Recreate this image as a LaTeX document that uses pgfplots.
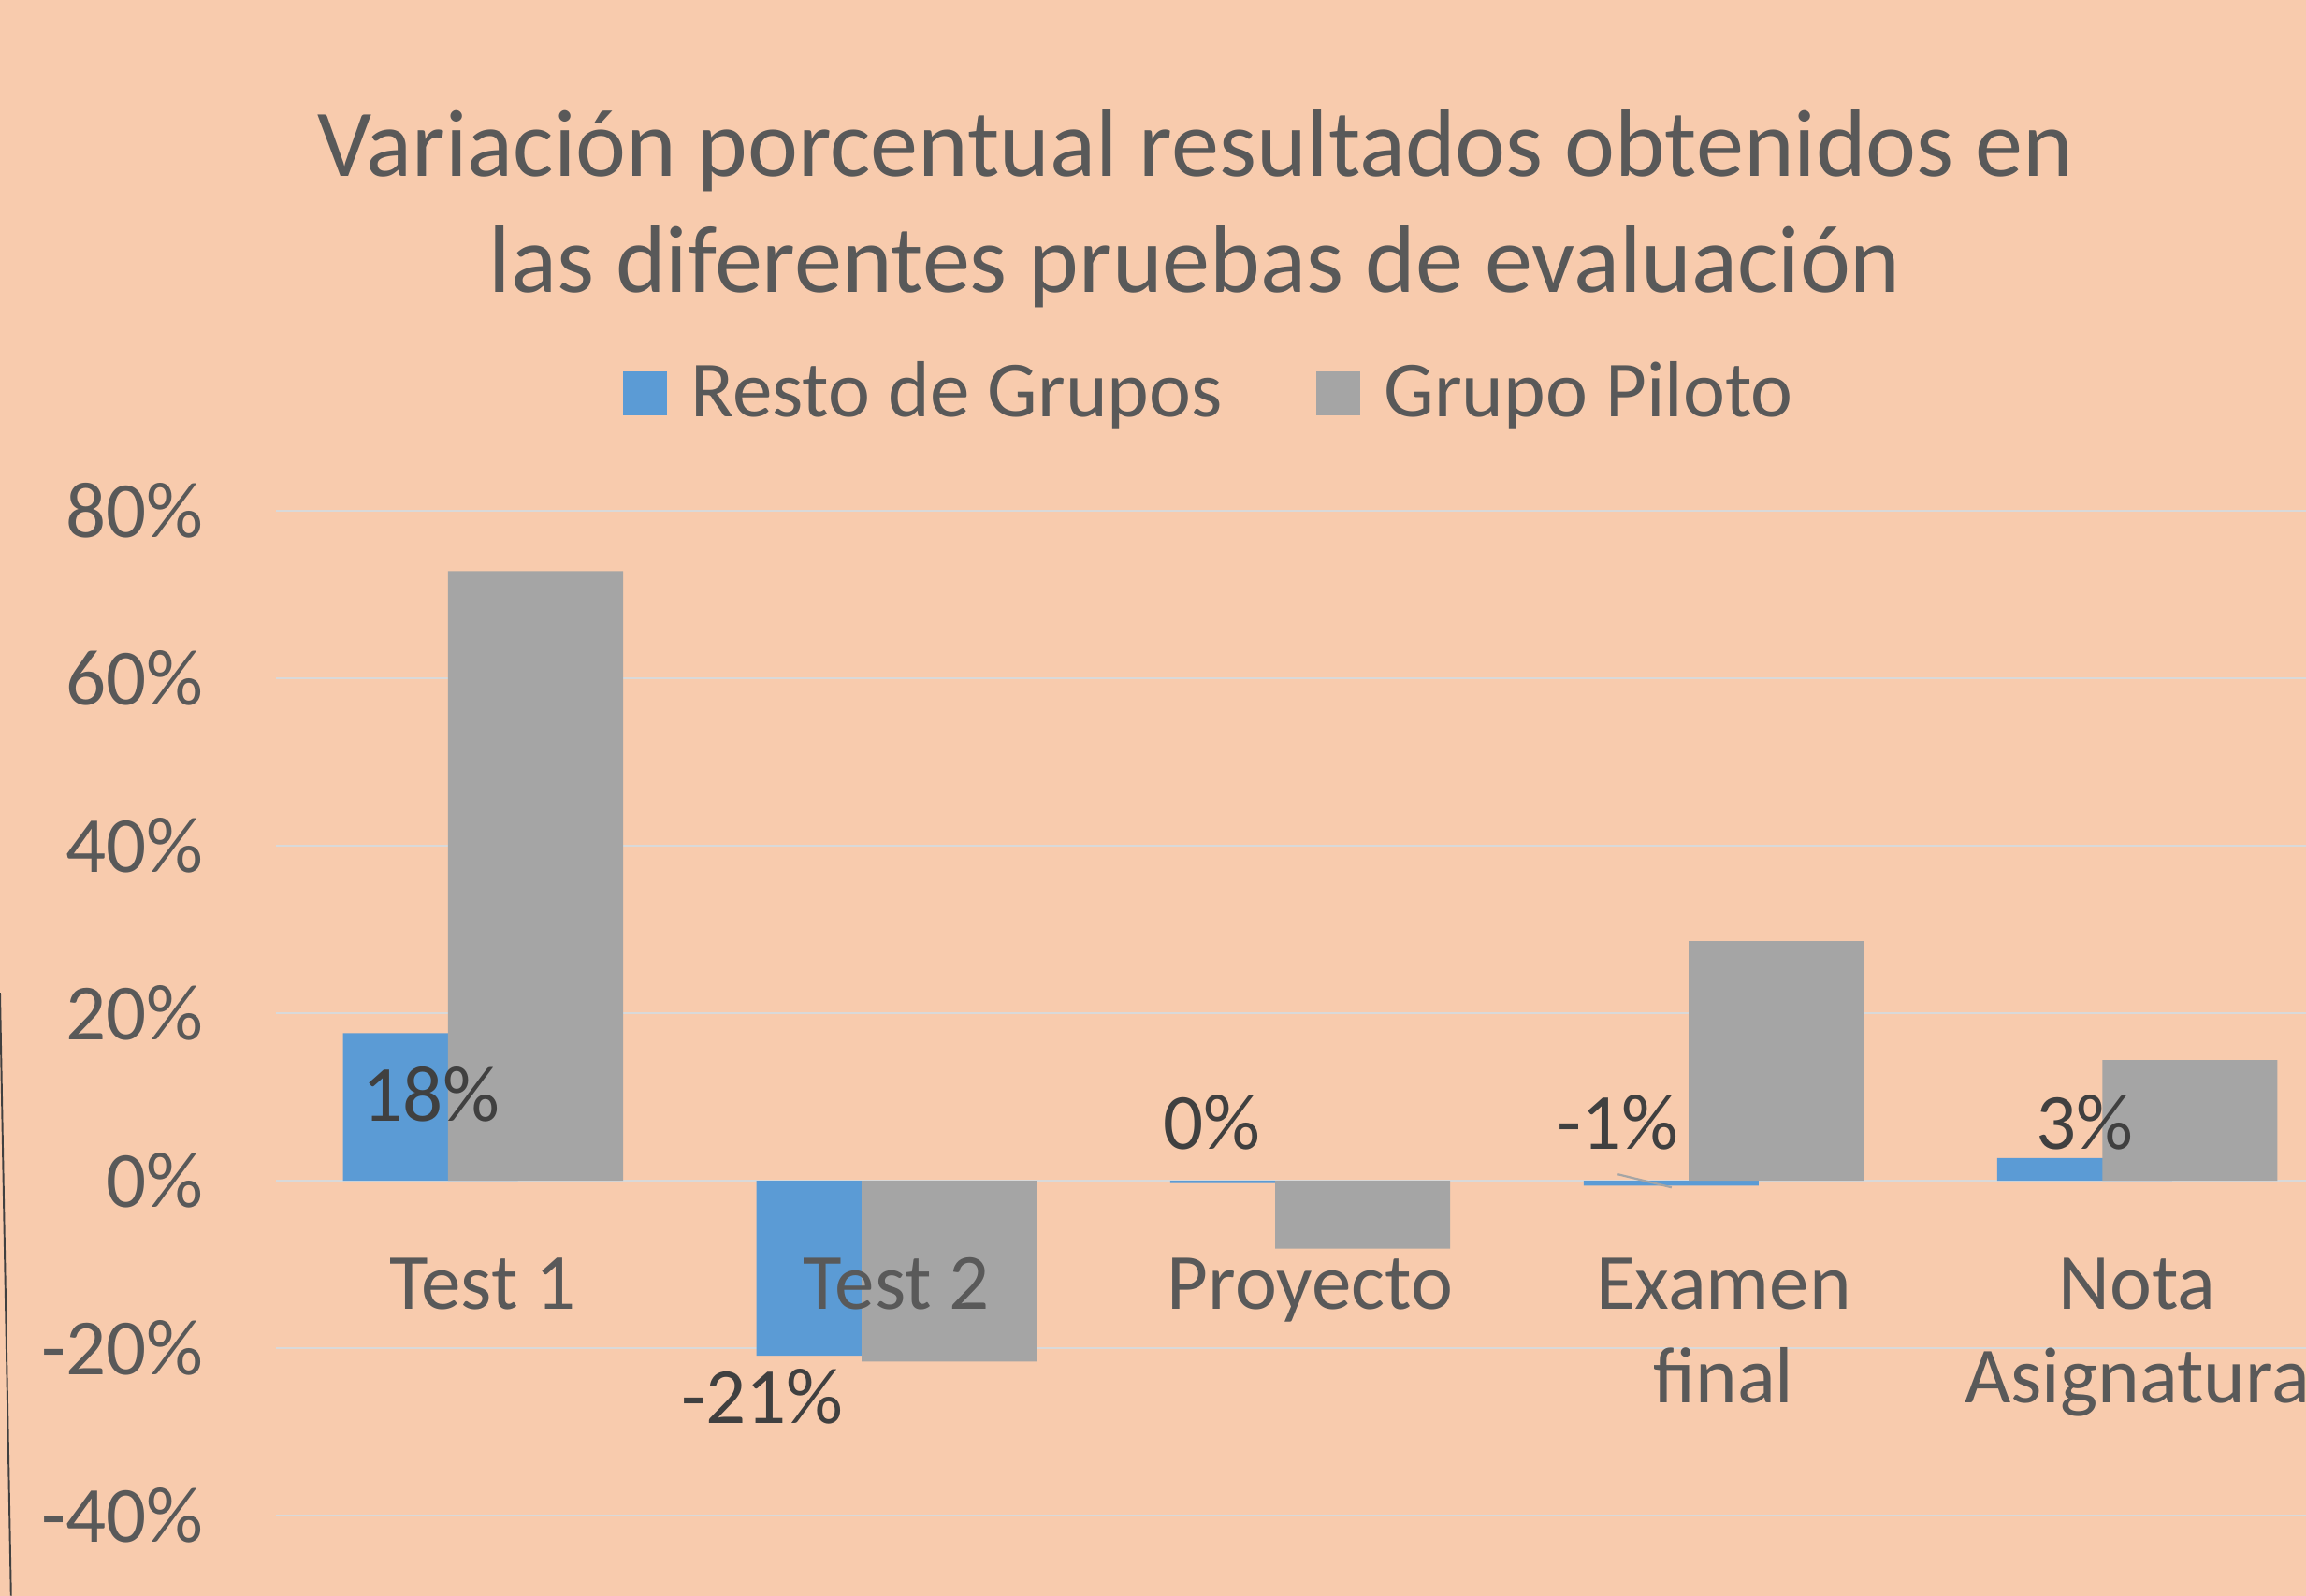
\documentclass[border=0pt]{standalone}
\usepackage{pgfplots}
\pgfplotsset{compat=1.18}
\usepackage{fontspec}
\setmainfont{Carlito}
\definecolor{bg}{HTML}{F8CBAD}
\definecolor{blueS}{HTML}{5B9BD5}
\definecolor{grayS}{HTML}{A5A5A5}
\definecolor{txt}{HTML}{595959}
\definecolor{lbl}{HTML}{404040}
\definecolor{gridc}{HTML}{D9D9D9}
\newcommand{\lblfont}{\fontsize{15.4}{18.2}\selectfont}
\pgfplotsset{
  commonaxis/.style={
    at={(18.785mm,5.45mm)}, anchor=south west,
    scale only axis, width=140.6mm, height=68.32mm,
    xmin=-0.5, xmax=4.5, ymin=-40, ymax=80,
    axis line style={draw=none},
    major tick length=0pt,
    tick label style={font=\lblfont, text=txt, inner sep=0pt},
    clip=false,
  }
}
\begin{document}
\begin{tikzpicture}[x=1mm,y=1mm]
\path[use as bounding box, clip] (0,0) rectangle (156.8,108.5);
\fill[bg] (0,0) rectangle (156.8,108.5);
\draw[color=black!75, line width=0.35pt] (0,41.0) -- (0.75,0);
\node[anchor=base, text=txt, font=\fontsize{18.5}{21}\selectfont] at (81.3,96.5) {Variación porcentual resultados obtenidos en};
\node[anchor=base, text=txt, font=\fontsize{18.5}{21}\selectfont] at (81.25,88.6) {las diferentes pruebas de evaluación};
% background axis: gridlines and value labels
\begin{axis}[
  commonaxis,
  ymajorgrids, grid style={color=gridc, line width=0.4pt},
  ytick={-40,-20,0,20,40,60,80},
  yticklabels={-40\%,-20\%,0\%,20\%,40\%,60\%,80\%},
  yticklabel style={anchor=east, xshift=-4.9mm},
  xtick=\empty,
]
\end{axis}
% data axis: bars, category labels on top
\begin{axis}[
  commonaxis,
  axis on top,
  ytick=\empty,
  xtick={0,1,2,3,4},
  xticklabels={Test 1,Test 2,Proyecto,Examen\\final,Nota\\Asignatura},
  xticklabel style={anchor=north, align=center, yshift=17.6mm},
  legend columns=2,
  legend cell align=left,
  legend image code/.code={\fill[#1] (0mm,-1.5mm) rectangle (3.0mm,1.5mm); \path (4.6mm,0);},
  legend style={at={(0.1672,1.1168)}, anchor=west, draw=none, fill=none, inner sep=0pt,
    font=\lblfont, text=txt, nodes={inner sep=0pt},
    /tikz/every even column/.append style={column sep=6.4mm}},
]
\addplot[ybar, bar width=0.4232, bar shift=-0.1271, fill=blueS, draw=none]
  coordinates {(0,17.6) (1,-20.9) (2,-0.3) (3,-0.6) (4,2.7)};
\addlegendentry{Resto de Grupos}
\addplot[ybar, bar width=0.4232, bar shift=0.1271, fill=grayS, draw=none]
  coordinates {(0,72.8) (1,-21.6) (2,-8.1) (3,28.6) (4,14.4)};
\addlegendentry{Grupo Piloto}
\draw[grayS, line width=0.4pt] (axis cs:2.744,0.76) -- (axis cs:2.874,-0.81);
\node[anchor=base, text=lbl, font=\lblfont] at (axis cs:-0.126,7.1) {18\%};
\node[anchor=base, text=lbl, font=\lblfont] at (axis cs:0.676,-29.0) {-21\%};
\node[anchor=base, text=lbl, font=\lblfont] at (axis cs:1.763,3.69) {0\%};
\node[anchor=base, text=lbl, font=\lblfont] at (axis cs:2.744,3.69) {-1\%};
\node[anchor=base, text=lbl, font=\lblfont] at (axis cs:3.872,3.69) {3\%};
\end{axis}
\end{tikzpicture}
\end{document}
